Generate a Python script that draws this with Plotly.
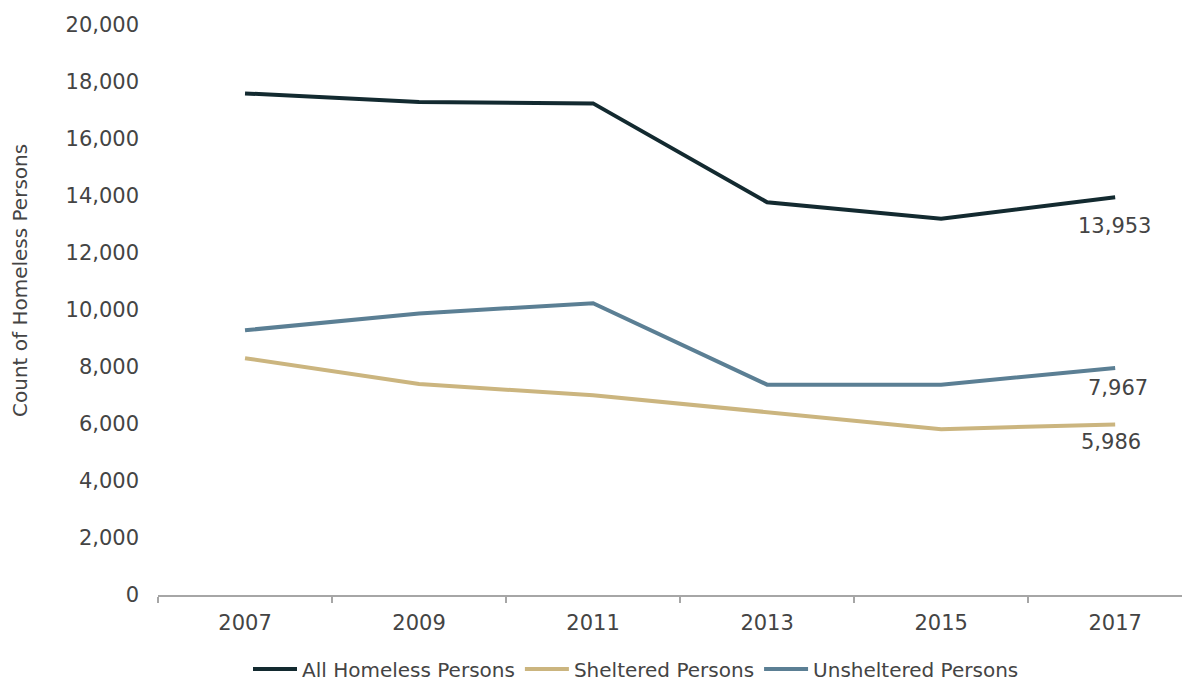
import plotly.graph_objects as go

years = ["2007", "2009", "2011", "2013", "2015", "2017"]
all_homeless = [17600, 17300, 17250, 13780, 13200, 13953]
sheltered = [8310, 7400, 7010, 6410, 5820, 5986]
unsheltered = [9290, 9880, 10240, 7380, 7380, 7967]

names = ["All Homeless Persons", "Sheltered Persons", "Unsheltered Persons"]
colors = ["#132A30", "#CBB57F", "#5B7F94"]
series = [all_homeless, sheltered, unsheltered]
label_yshift = [-29, -18, -20]
label_xshift = [-1, -4, 3]
y_title = "Count of Homeless Persons"

font_family = "DejaVu Sans, Verdana, sans-serif"
text_color = "#444444"

# the page adds an 8px body margin; compensate so the picture lines up
W, H = 1182, 673

fig = go.Figure()
for name, vals, col in zip(names, series, colors):
    fig.add_trace(go.Scatter(x=years, y=vals, mode="lines", name=name,
                             line=dict(color=col, width=4)))

# end-of-line value labels
last = len(years) - 1
for i, vals in enumerate(series):
    fig.add_annotation(x=last, y=vals[-1], text=f"{vals[-1]:,}",
                       showarrow=False, xref="x", yref="y",
                       yshift=label_yshift[i], xshift=label_xshift[i],
                       font=dict(size=21, color=text_color, family=font_family))

# y-axis title (placed like the reference, slightly above plot middle)
fig.add_annotation(x=0, y=(595 - 281) / 570, xref="paper", yref="paper",
                   xanchor="center", yanchor="middle", xshift=-138,
                   text=y_title, textangle=-90, showarrow=False,
                   font=dict(size=20, color=text_color, family=font_family))

fig.update_layout(
    width=W, height=H,
    margin=dict(l=150, r=0, t=17, b=86),
    paper_bgcolor="white", plot_bgcolor="white",
    font=dict(family=font_family, color=text_color, size=20),
    showlegend=True,
    legend=dict(orientation="h", x=(636 - 8) / W, xanchor="center", xref="container",
                y=1 - (669 - 8) / H, yanchor="middle", yref="container",
                font=dict(size=20, color=text_color),
                itemwidth=44, traceorder="normal"),
)
fig.update_xaxes(type="category", range=[-0.5, 5.43], tickson="boundaries",
                 showline=True, linecolor="#A6A6A6", linewidth=2,
                 ticks="outside", ticklen=6, tickcolor="#A6A6A6", tickwidth=2,
                 showgrid=False, tickfont=dict(size=21), ticklabelstandoff=8,
                 automargin=False)
fig.update_yaxes(range=[0, 20000], dtick=2000, tickformat=",",
                 showgrid=False, zeroline=False, showline=False,
                 tickfont=dict(size=21), ticks="", ticklabelstandoff=18,
                 automargin=False)

fig.write_html("out.html")
